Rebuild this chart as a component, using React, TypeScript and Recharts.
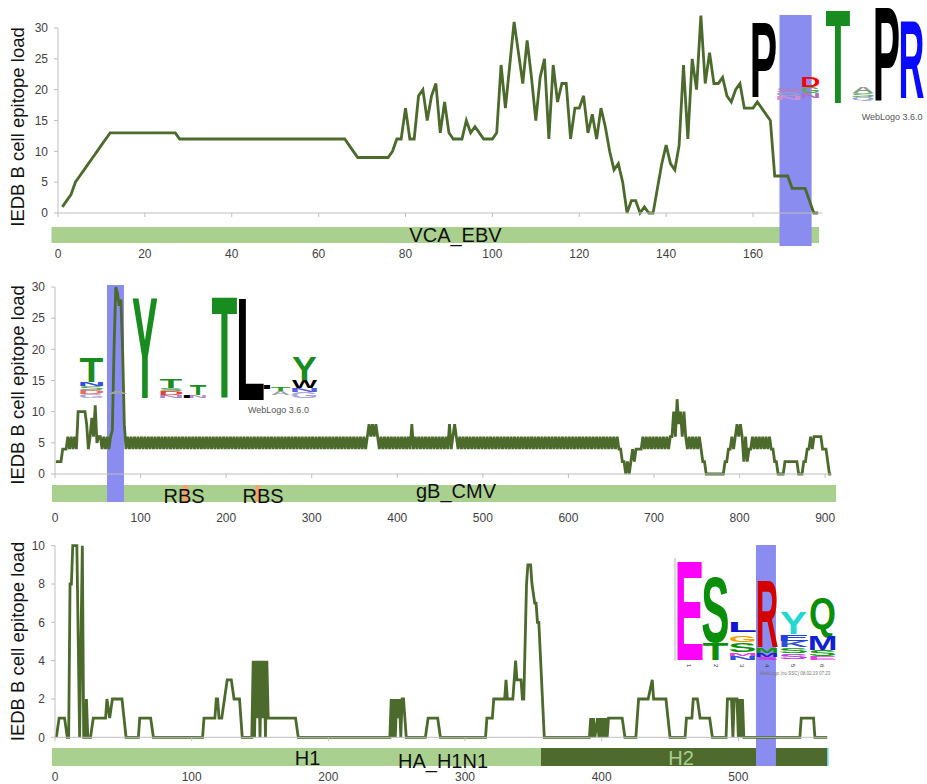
import React from "react";
import {
  LineChart,
  Line,
  XAxis,
  YAxis,
  ReferenceArea,
  ReferenceLine,
} from "recharts";

const LOAD = "#4b6a2c";
const BAR = "#a9d08e";
const BAR_DARK = "#4e6a2d";
const EPITOPE = "#8a8cf0";
const RBS = "#f4a36c";
const AXIS = "#bfbfbf";
const TICK = "#3f3f3f";
const NUM_FONT = '"Liberation Sans Narrow", "Liberation Sans", Arial, sans-serif';
const TEXT_FONT = '"Liberation Sans", Arial, sans-serif';

// VCA_EBV: epitope load for every residue, starting at residue 1
const vcaLoad = [
  1, 2, 3, 5, 6, 7, 8, 9, 10, 11, 12, 13,
  13, 13, 13, 13, 13, 13, 13, 13, 13, 13, 13, 13, 13, 13, 13,
  12, 12, 12, 12, 12, 12, 12, 12, 12, 12, 12, 12, 12, 12, 12, 12, 12, 12, 12, 12,
  12, 12, 12, 12, 12, 12, 12, 12, 12, 12, 12, 12, 12, 12, 12, 12, 12, 12, 12,
  11, 10, 9, 9, 9, 9, 9, 9, 9, 9,
  10, 12, 12, 17, 12, 12, 19, 20, 15, 19, 21, 13, 18, 13, 12, 12, 12, 15, 13, 14, 13, 12, 12, 12,
  13, 24, 17, 24, 31, 26, 21, 28, 22, 15, 22, 25, 12, 24, 18, 21, 21, 12, 17, 17,
  19, 13, 16, 12, 17, 14, 10, 7, 8, 5, 0, 2, 2, 0, 1, 0, 0, 4, 8, 11,
  8, 7, 11, 24, 12, 25, 20, 32, 21, 26, 21, 21, 22, 19, 18, 20, 21, 17, 17, 17,
  18, 17, 16, 15, 6, 6, 6, 6, 4, 4, 4, 4, 2, 0, 0,
];

// gB_CMV: epitope load every second residue (1, 3, 5, ...)
const cmvStep = 2;
const cmvLoad = [
  2, 2, 2, 2, 4, 4, 4, 6, 4, 6, 4, 6, 4, 10, 10, 10, 10, 10, 8, 4, 6, 9, 6, 11, 5,
  6, 6, 4, 6, 4, 6, 4, 6, 7, 20, 30, 29, 27, 28, 20, 8, 4, 6, 4, 6, 4, 6, 4, 6, 4,
  6, 4, 6, 4, 6, 4, 6, 4, 6, 4, 6, 4, 6, 4, 6, 4, 6, 4, 6, 4, 6, 4, 6, 4, 6,
  4, 6, 4, 6, 4, 6, 4, 6, 4, 6, 4, 6, 4, 6, 4, 6, 4, 6, 4, 6, 4, 6, 4, 6, 4,
  6, 4, 6, 4, 6, 4, 6, 4, 6, 4, 6, 4, 6, 4, 6, 4, 6, 4, 6, 4, 6, 4, 6, 4, 6,
  4, 6, 4, 6, 4, 6, 4, 6, 4, 6, 4, 6, 4, 6, 4, 6, 4, 6, 4, 6, 4, 6, 4, 6, 4,
  6, 4, 6, 4, 6, 4, 6, 4, 6, 4, 6, 4, 6, 4, 6, 4, 6, 4, 6, 4, 6, 4, 6, 4, 6,
  4, 6, 4, 6, 4, 6, 4, 6, 8, 6, 8, 6, 8, 6, 4, 6, 4, 6, 4, 6, 4, 6, 4, 6, 4,
  6, 4, 6, 4, 6, 4, 6, 4, 8, 4, 6, 4, 6, 4, 6, 4, 6, 4, 6, 4, 6, 4, 6, 4, 6,
  4, 6, 4, 6, 4, 8, 4, 6, 8, 6, 4, 6, 4, 6, 4, 6, 4, 6, 4, 6, 4, 6, 4, 6, 4,
  6, 4, 6, 4, 6, 4, 6, 4, 6, 4, 6, 4, 6, 4, 6, 4, 6, 4, 6, 4, 6, 4, 6, 4, 6,
  4, 6, 4, 6, 4, 6, 4, 6, 4, 6, 4, 6, 4, 6, 4, 6, 4, 6, 4, 6, 4, 6, 4, 6, 4,
  6, 4, 6, 4, 6, 4, 6, 4, 6, 4, 6, 4, 6, 4, 6, 4, 6, 4, 6, 4, 6, 4, 6, 4, 6,
  4, 6, 4, 6, 4, 4, 2, 2, 0, 2, 0, 2, 4, 2, 4, 4, 4, 4, 6, 4, 6, 4, 6, 4, 6,
  4, 6, 4, 6, 4, 6, 4, 6, 4, 6, 6, 10, 6, 12, 8, 10, 6, 10, 6, 4, 6, 4, 6, 4, 6,
  4, 6, 4, 2, 2, 0, 0, 0, 0, 0, 0, 0, 0, 0, 0, 0, 2, 2, 4, 4, 6, 4, 6, 8, 6,
  8, 6, 2, 6, 2, 4, 4, 6, 4, 6, 4, 6, 4, 6, 4, 6, 4, 6, 4, 4, 2, 2, 0, 0, 0,
  0, 2, 2, 2, 2, 2, 2, 2, 2, 0, 0, 0, 2, 2, 4, 4, 6, 4, 6, 6, 6, 6, 6, 4, 4, 4, 2, 0, 0,
];

// HA_H1N1: residue and load at each corner of the profile
const haPos = [
  1, 3, 7, 9, 10, 11, 12, 13, 16, 18, 20, 21, 22, 23, 24, 26, 28, 37, 38, 40, 42, 49, 52,
  61, 62, 70, 72, 108, 109, 117, 118, 119, 120, 122, 124, 126, 129, 131, 135, 137,
  144, 145, 146, 147, 148, 149, 150, 151, 152, 153, 154, 155, 156, 176, 178,
  245, 246, 247, 248, 249, 250, 251, 252, 253, 254, 255, 257, 271, 273, 280, 282,
  315, 316, 320, 321, 329, 330, 331, 335, 336, 337, 338, 341, 342, 343, 345, 346, 348, 349,
  351, 352, 353, 354, 358, 391, 392, 393, 394, 395, 397, 398, 399, 400, 401, 402, 403, 404,
  405, 415, 417, 425, 427, 434, 437, 438, 447, 450, 461, 462, 466, 467, 470, 472, 479, 481,
  491, 492, 495, 496, 497, 499, 500, 501, 502, 503, 504, 545, 546, 555, 556, 565,
];
const haLoad = [
  0, 1, 1, 0, 0, 8, 8, 10, 10, 0, 10, 0, 0, 2, 0, 0, 1, 1, 2, 1, 2, 2, 0,
  0, 1, 1, 0, 0, 1, 1, 2, 2, 1, 1, 2, 3, 3, 2, 2, 0,
  0, 4, 0, 4, 1, 4, 0, 4, 1, 4, 0, 4, 1, 1, 0,
  0, 2, 0, 2, 0, 2, 1, 2, 0, 2, 2, 0, 0, 1, 1, 0,
  0, 1, 1, 2, 2, 3, 2, 2, 3, 4, 3, 3, 2, 2, 8, 9, 9, 8,
  7, 7, 6, 6, 0, 0, 1, 0, 1, 0, 1, 0, 1, 0, 1, 0, 1, 0,
  1, 1, 0, 0, 2, 2, 3, 2, 2, 0, 0, 1, 1, 2, 2, 1, 1, 0,
  0, 2, 2, 0, 2, 2, 0, 2, 0, 2, 0, 0, 1, 1, 0, 0,
];

const vcaTicks = [0, 20, 40, 60, 80, 100, 120, 140, 160];
const cmvTicks = [0, 100, 200, 300, 400, 500, 600, 700, 800, 900];
const haTicks = [0, 100, 200, 300, 400, 500];
const loadTicks30 = [0, 5, 10, 15, 20, 25, 30];
const loadTicks10 = [0, 2, 4, 6, 8, 10];

const vcaData = vcaLoad.map((load, i) => ({ pos: i + 1, load }));
const cmvData = cmvLoad.map((load, i) => ({ pos: 1 + i * cmvStep, load }));
const haData = haPos.map((pos, i) => ({ pos, load: haLoad[i] }));

// protein bar pieces under each profile, in residue numbers
const vcaSegments = [{ from: -1.5, to: 175.2, fill: BAR }];
const cmvSegments = [
  { from: -3.5, to: 912.8, fill: BAR },
  { from: 149, to: 156, fill: RBS },
  { from: 234, to: 240, fill: RBS },
];
const haSegments = [
  { from: -2.2, to: 355.6, fill: BAR },
  { from: 355.6, to: 564.9, fill: BAR_DARK },
  { from: 564.9, to: 566, fill: "#62d2e2" },
];

const XTick = (props: any) => {
  const { x, y, payload, offset } = props;
  return (
    <text
      x={x}
      y={y + offset}
      textAnchor="middle"
      fill={TICK}
      fontSize={12}
      fontFamily={NUM_FONT}
    >
      {payload.value}
    </text>
  );
};

type PanelProps = {
  top: number;
  height: number;
  margin: { top: number; right: number; bottom: number; left: number };
  xAxisHeight: number;
  yAxisWidth: number;
  data: { pos: number; load: number }[];
  xMax: number;
  xTicks: number[];
  yMax: number;
  yTicks: number[];
  segments: { from: number; to: number; fill: string }[];
  epitope: [number, number];
  bar: [number, number]; // px below the axis
  band: [number, number]; // px above / below the axis
  tickOffset: number;
  ownYLine?: boolean;
};

const Panel = (p: PanelProps) => {
  const plotH = p.height - p.margin.top - p.margin.bottom - p.xAxisHeight;
  const perPx = p.yMax / plotH;
  const lastTick = p.yTicks[p.yTicks.length - 1];
  return (
    <div style={{ position: "absolute", left: 0, top: p.top }}>
      <LineChart width={927} height={p.height} data={p.data} margin={p.margin}>
        <XAxis
          dataKey="pos"
          type="number"
          domain={[0, p.xMax]}
          ticks={p.xTicks}
          interval={0}
          height={p.xAxisHeight}
          tickSize={4}
          tickMargin={2}
          axisLine={{ stroke: AXIS }}
          tickLine={{ stroke: AXIS }}
          tick={<XTick offset={p.tickOffset} />}
        />
        <YAxis
          type="number"
          domain={[0, p.yMax]}
          ticks={p.yTicks}
          interval={0}
          width={p.yAxisWidth}
          tickSize={4}
          tickMargin={6}
          axisLine={p.ownYLine ? false : { stroke: AXIS }}
          tickLine={{ stroke: AXIS }}
          tick={{ fontSize: 12, fill: TICK, fontFamily: NUM_FONT }}
        />
        {p.ownYLine && (
          <ReferenceLine
            segment={[
              { x: 0, y: 0 },
              { x: 0, y: lastTick },
            ]}
            stroke={AXIS}
          />
        )}
        {p.segments.map((s, i) => (
          <ReferenceArea
            key={i}
            x1={s.from}
            x2={s.to}
            y1={-p.bar[0] * perPx}
            y2={-p.bar[1] * perPx}
            fill={s.fill}
            fillOpacity={1}
            stroke="none"
            ifOverflow="visible"
          />
        ))}
        <ReferenceArea
          x1={p.epitope[0]}
          x2={p.epitope[1]}
          y1={-p.band[1] * perPx}
          y2={p.band[0] * perPx}
          fill={EPITOPE}
          fillOpacity={1}
          stroke="none"
          ifOverflow="visible"
        />
        <Line
          dataKey="load"
          type="linear"
          stroke={LOAD}
          strokeWidth={2.8}
          dot={false}
          activeDot={false}
          isAnimationActive={false}
        />
      </LineChart>
    </div>
  );
};

// sequence logos: letter, colour, left, top, width, height
type Glyph = [string, string, number, number, number, number];

// approximate ink width of each bold capital, per 100px of font size
const INK: Record<string, number> = {
  A: 72, D: 62, E: 56, G: 70, I: 14, K: 66, L: 52, M: 70,
  N: 60, P: 56, Q: 72, R: 64, S: 59, T: 59, W: 94, Y: 67,
};

const logoEbv: Glyph[] = [
  ["P", "#000", 752, 20, 23, 77],
  ["S", "#b080c0", 777, 88, 23, 4],
  ["G", "#a0a0c8", 777, 92, 23, 4],
  ["N", "#d090d0", 777, 96, 23, 4],
  ["D", "#ff0000", 802, 76, 17, 11],
  ["G", "#5aaa5a", 802, 87, 17, 6],
  ["N", "#b070c0", 802, 93, 17, 5],
  ["T", "#188c1e", 826, 7, 24, 96],
  ["A", "#8c9c8c", 852, 87, 22, 6],
  ["S", "#6cb06c", 852, 93, 22, 4],
  ["Q", "#a0a0d8", 852, 97, 22, 3],
  ["P", "#000", 875, 5, 23, 95],
  ["R", "#0a0aff", 900, 18, 23, 80],
];

const logoCmv: Glyph[] = [
  ["T", "#188c1e", 80, 357, 23, 25],
  ["N", "#3050e0", 80, 382, 23, 4],
  ["S", "#6aa06a", 80, 386, 23, 4],
  ["D", "#e07070", 80, 390, 23, 4],
  ["G", "#b0a0c8", 80, 394, 23, 4],
  ["A", "#a0a8a0", 107, 391, 21, 3],
  ["Y", "#188c1e", 132, 295, 26, 103],
  ["T", "#188c1e", 160, 379, 22, 9],
  ["S", "#4c9c4c", 160, 388, 22, 3],
  ["D", "#e83c3c", 160, 391, 22, 4],
  ["N", "#a888c8", 160, 395, 22, 3],
  ["I", "#000", 184, 395, 6, 3],
  ["T", "#188c1e", 190, 385, 16, 10],
  ["N", "#b090c0", 190, 395, 16, 3],
  ["T", "#188c1e", 212, 295, 25, 103],
  ["L", "#000", 238, 295, 25, 105],
  ["I", "#000", 264, 385, 6, 4],
  ["T", "#2a9a2a", 271, 387, 19, 4],
  ["A", "#a0a0a0", 271, 391, 19, 4],
  ["Y", "#188c1e", 292, 356, 25, 24],
  ["W", "#000", 292, 380, 25, 8],
  ["N", "#5060e0", 292, 388, 25, 4],
  ["G", "#a8a8d8", 292, 392, 25, 6],
];

const logoHa: Glyph[] = [
  ["E", "#ff00ff", 677, 558, 25, 102],
  ["S", "#0a8f0a", 703, 575, 25, 67],
  ["T", "#0a8f0a", 703, 643, 25, 17],
  ["L", "#1212d4", 730, 622, 25, 10],
  ["G", "#f5a000", 730, 635, 25, 7],
  ["S", "#0a8f0a", 730, 643, 25, 9],
  ["M", "#e040e0", 730, 653, 25, 3],
  ["N", "#3050e0", 730, 656, 25, 4],
  ["R", "#d40000", 757, 578, 20, 69],
  ["M", "#0a9a0a", 757, 648, 20, 5],
  ["M", "#2020d0", 757, 653, 20, 4],
  ["S", "#e020e0", 757, 657, 20, 3],
  ["Y", "#22d8d0", 780, 612, 27, 22],
  ["E", "#2040e0", 780, 635, 27, 6],
  ["K", "#3050d0", 780, 641, 27, 6],
  ["S", "#20a020", 780, 648, 27, 5],
  ["S", "#c040e0", 780, 654, 27, 5],
  ["Q", "#0a8f0a", 810, 597, 25, 32],
  ["M", "#1020d0", 810, 635, 25, 15],
  ["S", "#10a010", 810, 650, 25, 6],
  ["E", "#e040e0", 810, 656, 25, 4],
];

const haColumns = [689, 716, 742, 767, 793, 822];

// one logo letter stretched to fill its box
const Letter = ({ g }: { g: Glyph }) => {
  const [ch, fill, x, y, w, h] = g;
  const sx = w / (INK[ch] || 60);
  const sy = h / 71.6;
  return (
    <text
      transform={`translate(${x + w / 2},${y + h}) scale(${sx},${sy})`}
      fontSize={100}
      textAnchor="middle"
      fill={fill}
      fontFamily={TEXT_FONT}
      fontWeight={700}
    >
      {ch}
    </text>
  );
};

const Caption = ({ x, y, text, size = 20, fill = "#111" }: any) => (
  <text
    x={x}
    y={y}
    textAnchor="middle"
    fontSize={size}
    fill={fill}
    fontFamily={TEXT_FONT}
  >
    {text}
  </text>
);

const YTitle = ({ cy }: { cy: number }) => (
  <text
    transform={`translate(24,${cy}) rotate(-90)`}
    textAnchor="middle"
    fontSize={18.5}
    fill="#111"
    fontFamily={TEXT_FONT}
  >
    IEDB B cell epitope load
  </text>
);

export default function App() {
  return (
    <div
      style={{
        position: "absolute",
        left: 0,
        top: 0,
        width: 927,
        height: 784,
        background: "#fff",
        overflow: "hidden",
      }}
    >
      <Panel
        top={0}
        height={270}
        margin={{ top: 9.5, right: 104.5, bottom: 7, left: 0 }}
        xAxisHeight={50}
        yAxisWidth={58}
        data={vcaData}
        xMax={176}
        xTicks={vcaTicks}
        yMax={33}
        yTicks={loadTicks30}
        segments={vcaSegments}
        epitope={[166.1, 173.5]}
        bar={[14, 30]}
        band={[198, 33]}
        tickOffset={39}
        ownYLine
      />
      <Panel
        top={260}
        height={270}
        margin={{ top: 27, right: 95, bottom: 6, left: 0 }}
        xAxisHeight={50}
        yAxisWidth={55}
        data={cmvData}
        xMax={908}
        xTicks={cmvTicks}
        yMax={30}
        yTicks={loadTicks30}
        segments={cmvSegments}
        epitope={[60.8, 80.6]}
        bar={[11, 28]}
        band={[189, 28]}
        tickOffset={41.5}
      />
      <Panel
        top={520}
        height={264}
        margin={{ top: 25.7, right: 99.8, bottom: 2.7, left: 0 }}
        xAxisHeight={44}
        yAxisWidth={55}
        data={haData}
        xMax={565}
        xTicks={haTicks}
        yMax={10}
        yTicks={loadTicks10}
        segments={haSegments}
        epitope={[512.9, 527.5]}
        bar={[10.7, 28.7]}
        band={[192.3, 28.7]}
        tickOffset={37.4}
      />
      <svg
        width={927}
        height={784}
        style={{ position: "absolute", left: 0, top: 0, pointerEvents: "none" }}
      >
        <YTitle cy={127} />
        <YTitle cy={385} />
        <YTitle cy={641.5} />

        <Caption x={455.5} y={242} text="VCA_EBV" />
        <Caption x={184} y={503} text="RBS" />
        <Caption x={263} y={503} text="RBS" />
        <Caption x={456} y={498} text="gB_CMV" />
        <Caption x={307.5} y={765} text="H1" />
        <Caption x={443} y={768} text="HA_H1N1" />
        <Caption x={681} y={765} text="H2" fill={BAR} />

        {logoEbv.map((g, i) => (
          <Letter key={"e" + i} g={g} />
        ))}
        <text x={861.7} y={120} fontSize={9} fill="#555" fontFamily={TEXT_FONT}>
          WebLogo 3.6.0
        </text>

        {logoCmv.map((g, i) => (
          <Letter key={"c" + i} g={g} />
        ))}
        <text x={248} y={413} fontSize={9} fill="#555" fontFamily={TEXT_FONT}>
          WebLogo 3.6.0
        </text>

        <line x1={675} y1={558} x2={675} y2={661} stroke="#999" strokeWidth={0.7} />
        {logoHa.map((g, i) => (
          <Letter key={"h" + i} g={g} />
        ))}
        {haColumns.map((cx, i) => (
          <text
            key={"n" + i}
            transform={`translate(${cx - 2},${664}) rotate(90)`}
            fontSize={6}
            fill="#333"
            fontFamily={TEXT_FONT}
          >
            {i + 1}
          </text>
        ))}
        <text x={760} y={675} fontSize={4.5} fill="#777" fontFamily={TEXT_FONT}>
          WebLogo (no SSC) 08.02.19 07:23
        </text>
      </svg>
    </div>
  );
}
